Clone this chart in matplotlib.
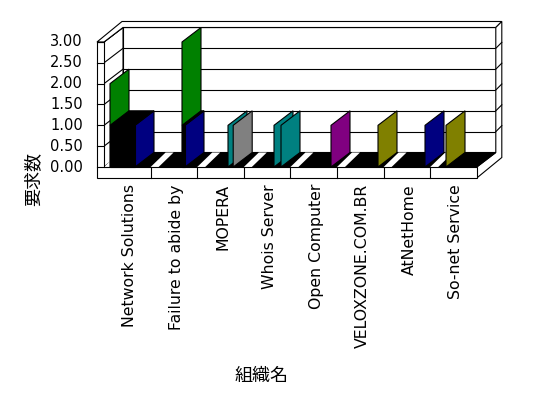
import matplotlib
matplotlib.use("Agg")
import matplotlib.pyplot as plt
from matplotlib.patches import Polygon

plt.rcParams['font.family'] = ['DejaVu Sans', 'Noto Sans CJK JP']

# data
categories = ['Network Solutions', 'Failure to abide by', 'MOPERA', 'Whois Server',
              'Open Computer', 'VELOXZONE.COM.BR', 'AtNetHome', 'So-net Service']
value_ticks = [0.0, 0.5, 1.0, 1.5, 2.0, 2.5, 3.0]
bar_category = [0, 0, 1, 1, 2, 2, 3, 3, 4, 5, 6, 7]
bar_value = [2, 1, 3, 1, 1, 1, 1, 1, 1, 1, 1, 1]

# styles / layout
bar_color = ['#008000', '#000080', '#008000', '#000080', '#008080', '#808080',
             '#008080', '#008080', '#800080', '#808000', '#000080', '#808000']
bar_offset_px = [6, 6, 31.4, 31.4, 30.8, 36, 30.2, 37.2, 40.6, 41, 41.4, 15.8]
bar_front_px = [0, 25, 0, 3, 0, 0, 0, 0, 0, 0, 0, 0]

CAT_PX = 46.6     # pixels per category
VAL_PX = 41.67    # pixels per value unit
DX, DY = 19 / CAT_PX, 14.5 / VAL_PX        # depth of the plot box
TX, TY = 6 / CAT_PX, 6 / VAL_PX            # back wall thickness
TW = 7 / CAT_PX                            # left wall thickness
FT = 11 / VAL_PX                           # floor thickness
n = len(categories)
vmax = value_ticks[-1]
LW = 0.8

fig = plt.figure(figsize=(5.48, 3.98), dpi=100)
ax = fig.add_axes([0, 0, 1, 1])
ax.set_xlim(-104 / CAT_PX, 444 / CAT_PX)
ax.set_ylim(-231 / VAL_PX, 167 / VAL_PX)
ax.axis('off')


def poly(pts, fc, z, ec='black'):
    ax.add_patch(Polygon(pts, closed=True, facecolor=fc, edgecolor=ec, lw=LW, zorder=z))


# back wall
poly([(DX, DY), (n + DX, DY), (n + DX, vmax + DY), (DX, vmax + DY)], 'white', 1)
# left wall inner face
poly([(0, 0), (DX, DY), (DX, vmax + DY), (0, vmax)], 'white', 1)
for v in value_ticks[1:]:
    ax.plot([DX, n + DX], [v + DY, v + DY], color='black', lw=LW, zorder=1.5)
    ax.plot([0, DX], [v, v + DY], color='black', lw=LW, zorder=1.5)
# top rim of walls
poly([(-TW, vmax), (0, vmax), (DX, vmax + DY), (n + DX, vmax + DY),
      (n + DX + TX, vmax + DY + TY), (DX - TW + TX, vmax + DY + TY)], 'white', 2)
# right side of back wall and floor
poly([(n, 0), (n, -FT), (n + DX + TX, -FT + DY + TY), (n + DX + TX, vmax + DY + TY),
      (n + DX, vmax + DY), (n + DX, DY)], 'white', 2)
for v in value_ticks[1:-1]:
    ax.plot([n + DX, n + DX + TX], [v + DY, v + DY + TY], color='black', lw=LW, zorder=2.5)

# floor top (dark) with light stripes
poly([(0, 0), (n, 0), (n + DX, DY), (DX, DY)], 'black', 3)
s0, s1, s2, s3 = 0 / CAT_PX, 8 / CAT_PX, 15 / CAT_PX, 23 / CAT_PX
for k in range(n):
    poly([(k + s0, 0), (k + s1, 0), (k + s3, DY), (k + s2, DY)], 'white', 3.5, ec='none')

# front faces of left wall and floor
poly([(-TW, -FT), (n, -FT), (n, 0), (0, 0), (0, vmax), (-TW, vmax)], 'white', 4)
for v in value_ticks:
    ax.plot([-TW, 0], [v, v], color='black', lw=LW, zorder=4.5)
for k in range(1, n):
    ax.plot([k, k], [-FT, 0], color='black', lw=LW, zorder=4.5)

# bars
for i, (c, v) in enumerate(zip(bar_category, bar_value)):
    x0 = c + bar_offset_px[i] / CAT_PX
    w = bar_front_px[i] / CAT_PX
    z = 5 + i * 0.1
    poly([(x0 + w, 0), (x0 + w + DX, DY), (x0 + w + DX, v + DY), (x0 + w, v)], bar_color[i], z)
    if w > 0:
        poly([(x0, 0), (x0 + w, 0), (x0 + w, v), (x0, v)], 'black', z)
        poly([(x0, v), (x0 + w, v), (x0 + w + DX, v + DY), (x0 + DX, v + DY)], 'black', z)

# tick labels
for v in value_ticks:
    ax.text(-21 / CAT_PX, v, f'{v:.2f}', ha='right', va='center', fontsize=10.5)
for k, name in enumerate(categories):
    ax.text(k + 0.5 + 2.5 / CAT_PX, -FT - 6 / VAL_PX, name, rotation=90,
            ha='center', va='top', fontsize=11.3)

ax.text(-71 / CAT_PX, -12 / VAL_PX, '要求数', rotation=90, ha='center', va='center',
        fontsize=13, family=['Noto Sans CJK JP'])
ax.text(158 / CAT_PX, -209 / VAL_PX, '組織名', ha='center', va='center',
        fontsize=13, family=['Noto Sans CJK JP'])

fig.savefig('out.png', dpi=100, facecolor='white')
